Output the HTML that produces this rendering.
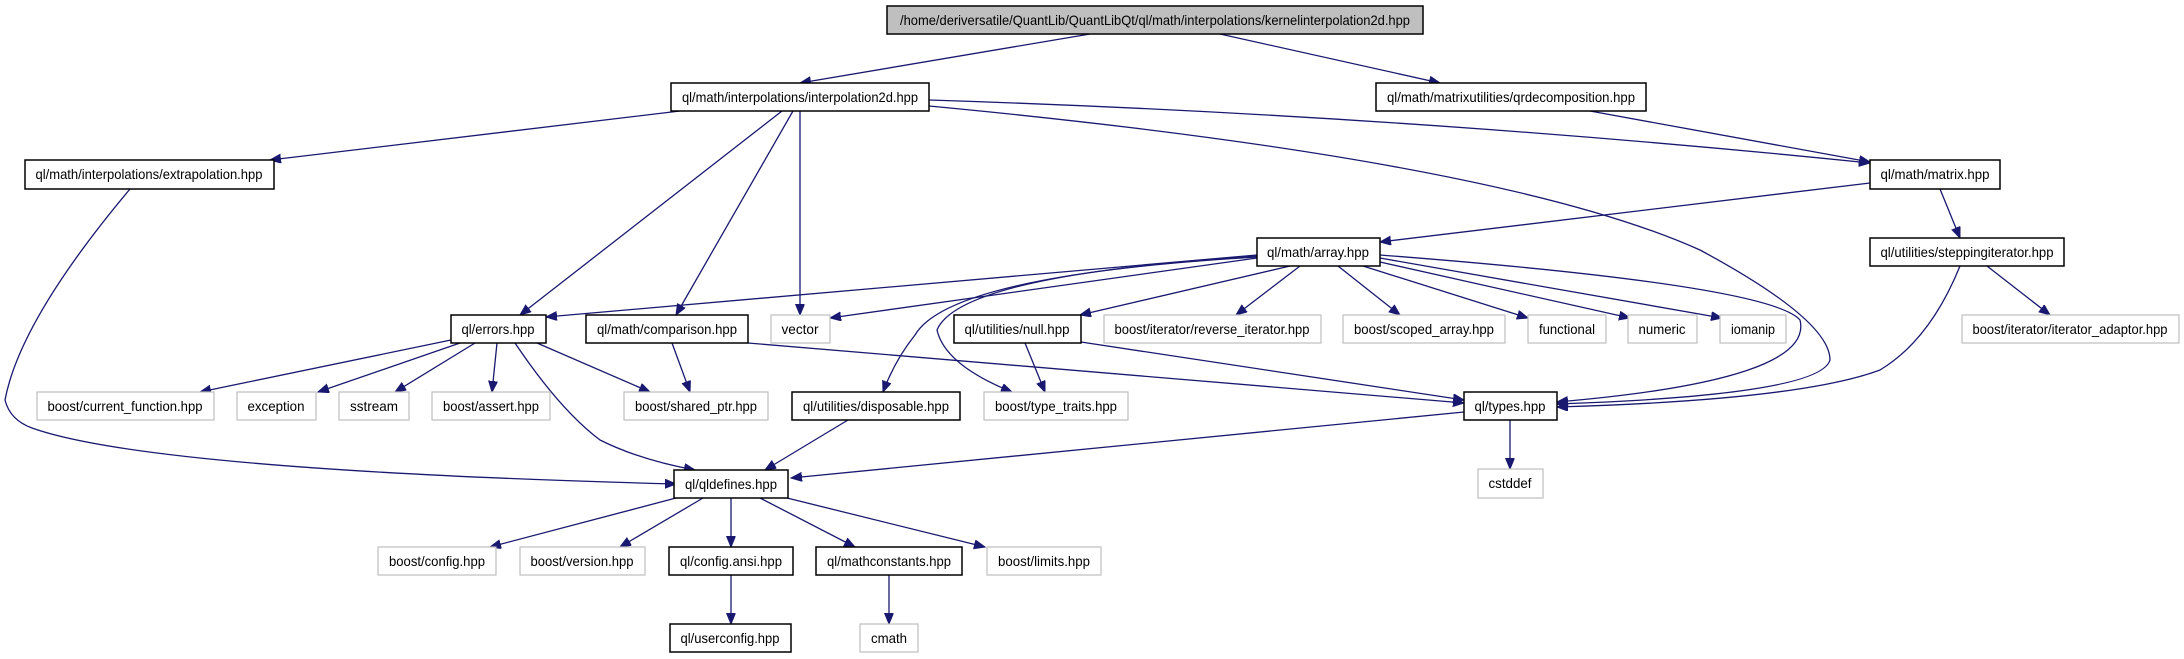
<!DOCTYPE html>
<html><head><meta charset="utf-8"><style>
html,body{margin:0;padding:0;background:#fff;}
svg{display:block;}
text{font-family:"Liberation Sans",sans-serif;font-size:14px;fill:#000;}
.e{fill:none;stroke:#191970;stroke-width:1.3;marker-end:url(#a);}
.n{fill:#fff;stroke:#000;stroke-width:1.5;}
.g{fill:#fff;stroke:#bfbfbf;stroke-width:1.2;}
</style></head><body>
<svg width="2184" height="659" viewBox="0 0 2184 659" xmlns="http://www.w3.org/2000/svg">
<defs><marker id="a" markerUnits="userSpaceOnUse" markerWidth="12" markerHeight="10" refX="11" refY="4.5" orient="auto"><path d="M0,0 L11,4.5 L0,9 z" fill="#191970" stroke="#191970"/></marker></defs>
<g>
<path class="e" d="M1090,34 L800,83"/>
<path class="e" d="M1220,34 L1440,83"/>
<path class="e" d="M680,111 L270,160"/>
<path class="e" d="M782,111 L520,315"/>
<path class="e" d="M793,111 L676,315"/>
<path class="e" d="M800,111 L800,315"/>
<path class="e" d="M929,100 Q1400,115 1870,163"/>
<path class="e" d="M929,106 Q1500,160 1700,250 Q1830,320 1830,360 Q1820,395 1557,404"/>
<path class="e" d="M1590,111 L1870,162"/>
<path class="e" d="M1870,183 L1380,242"/>
<path class="e" d="M1940,189 L1960,238"/>
<path class="e" d="M1987,266 L2050,315"/>
<path class="e" d="M1960,266 Q1930,340 1880,370 Q1800,400 1557,407"/>
<path class="e" d="M130,189 Q20,320 5,400 Q10,420 32,428 Q150,470 676,484"/>
<path class="e" d="M1257,255 L546,317"/>
<path class="e" d="M1257,258 L830,318"/>
<path class="e" d="M1257,257 Q950,275 915,335 Q895,360 883,392"/>
<path class="e" d="M1257,256 Q960,275 937,330 Q945,365 1012,392"/>
<path class="e" d="M1290,266 L1080,315"/>
<path class="e" d="M1300,266 L1236,315"/>
<path class="e" d="M1338,266 L1400,315"/>
<path class="e" d="M1363,266 L1528,318"/>
<path class="e" d="M1380,262 L1630,318"/>
<path class="e" d="M1380,258 L1722,318"/>
<path class="e" d="M1380,255 Q1770,285 1800,320 Q1815,380 1557,402"/>
<path class="e" d="M451,340 L200,392"/>
<path class="e" d="M460,343 L318,392"/>
<path class="e" d="M475,343 L395,392"/>
<path class="e" d="M497,343 L492,392"/>
<path class="e" d="M515,343 Q560,410 600,440 Q640,460 695,470"/>
<path class="e" d="M537,343 L650,392"/>
<path class="e" d="M672,343 L690,392"/>
<path class="e" d="M748,343 L1464,403"/>
<path class="e" d="M1025,343 L1045,392"/>
<path class="e" d="M1081,342 L1464,400"/>
<path class="e" d="M848,420 L765,470"/>
<path class="e" d="M1464,412 L791,478"/>
<path class="e" d="M676,498 L490,547"/>
<path class="e" d="M703,498 L620,547"/>
<path class="e" d="M731,498 L731,547"/>
<path class="e" d="M760,498 L855,547"/>
<path class="e" d="M787,498 L985,547"/>
<path class="e" d="M731,575 L731,624"/>
<path class="e" d="M889,575 L889,624"/>
<path class="e" d="M1510,420 L1510,469"/>
</g>
<g>
<rect x="887" y="6" width="536" height="28" fill="#bfbfbf" stroke="#000" stroke-width="1.5"/>
<text x="1155" y="25" text-anchor="middle" textLength="510" lengthAdjust="spacingAndGlyphs">/home/deriversatile/QuantLib/QuantLibQt/ql/math/interpolations/kernelinterpolation2d.hpp</text>

<rect class="n" x="671" y="83" width="258" height="28"/><text x="800" y="102" text-anchor="middle" textLength="236" lengthAdjust="spacingAndGlyphs">ql/math/interpolations/interpolation2d.hpp</text>
<rect class="n" x="1376" y="83" width="270" height="28"/><text x="1511" y="102" text-anchor="middle" textLength="248" lengthAdjust="spacingAndGlyphs">ql/math/matrixutilities/qrdecomposition.hpp</text>

<rect class="n" x="25" y="160" width="249" height="29"/><text x="149" y="179" text-anchor="middle" textLength="227" lengthAdjust="spacingAndGlyphs">ql/math/interpolations/extrapolation.hpp</text>
<rect class="n" x="1870" y="160" width="130" height="29"/><text x="1935" y="179" text-anchor="middle" textLength="109" lengthAdjust="spacingAndGlyphs">ql/math/matrix.hpp</text>

<rect class="n" x="1257" y="238" width="123" height="28"/><text x="1318" y="257" text-anchor="middle" textLength="102" lengthAdjust="spacingAndGlyphs">ql/math/array.hpp</text>
<rect class="n" x="1870" y="238" width="194" height="28"/><text x="1967" y="257" text-anchor="middle" textLength="173" lengthAdjust="spacingAndGlyphs">ql/utilities/steppingiterator.hpp</text>

<rect class="n" x="451" y="315" width="95" height="28"/><text x="498" y="334" text-anchor="middle" textLength="73" lengthAdjust="spacingAndGlyphs">ql/errors.hpp</text>
<rect class="n" x="586" y="315" width="162" height="28"/><text x="667" y="334" text-anchor="middle" textLength="140" lengthAdjust="spacingAndGlyphs">ql/math/comparison.hpp</text>
<rect class="g" x="771" y="315" width="59" height="28"/><text x="800" y="334" text-anchor="middle" textLength="37" lengthAdjust="spacingAndGlyphs">vector</text>
<rect class="n" x="954" y="315" width="127" height="28"/><text x="1017" y="334" text-anchor="middle" textLength="105" lengthAdjust="spacingAndGlyphs">ql/utilities/null.hpp</text>
<rect class="g" x="1104" y="315" width="217" height="28"/><text x="1212" y="334" text-anchor="middle" textLength="195" lengthAdjust="spacingAndGlyphs">boost/iterator/reverse_iterator.hpp</text>
<rect class="g" x="1343" y="315" width="162" height="28"/><text x="1424" y="334" text-anchor="middle" textLength="140" lengthAdjust="spacingAndGlyphs">boost/scoped_array.hpp</text>
<rect class="g" x="1528" y="315" width="78" height="28"/><text x="1567" y="334" text-anchor="middle" textLength="56" lengthAdjust="spacingAndGlyphs">functional</text>
<rect class="g" x="1628" y="315" width="69" height="28"/><text x="1662" y="334" text-anchor="middle" textLength="47" lengthAdjust="spacingAndGlyphs">numeric</text>
<rect class="g" x="1720" y="315" width="66" height="28"/><text x="1753" y="334" text-anchor="middle" textLength="44" lengthAdjust="spacingAndGlyphs">iomanip</text>
<rect class="g" x="1962" y="315" width="217" height="28"/><text x="2070" y="334" text-anchor="middle" textLength="195" lengthAdjust="spacingAndGlyphs">boost/iterator/iterator_adaptor.hpp</text>

<rect class="g" x="37" y="392" width="177" height="28"/><text x="125" y="411" text-anchor="middle" textLength="155" lengthAdjust="spacingAndGlyphs">boost/current_function.hpp</text>
<rect class="g" x="237" y="392" width="79" height="28"/><text x="276" y="411" text-anchor="middle" textLength="57" lengthAdjust="spacingAndGlyphs">exception</text>
<rect class="g" x="339" y="392" width="70" height="28"/><text x="374" y="411" text-anchor="middle" textLength="48" lengthAdjust="spacingAndGlyphs">sstream</text>
<rect class="g" x="432" y="392" width="118" height="28"/><text x="491" y="411" text-anchor="middle" textLength="96" lengthAdjust="spacingAndGlyphs">boost/assert.hpp</text>
<rect class="g" x="624" y="392" width="144" height="28"/><text x="696" y="411" text-anchor="middle" textLength="122" lengthAdjust="spacingAndGlyphs">boost/shared_ptr.hpp</text>
<rect class="n" x="792" y="392" width="168" height="28"/><text x="876" y="411" text-anchor="middle" textLength="146" lengthAdjust="spacingAndGlyphs">ql/utilities/disposable.hpp</text>
<rect class="g" x="984" y="392" width="144" height="28"/><text x="1056" y="411" text-anchor="middle" textLength="122" lengthAdjust="spacingAndGlyphs">boost/type_traits.hpp</text>
<rect class="n" x="1464" y="392" width="93" height="28"/><text x="1510" y="411" text-anchor="middle" textLength="71" lengthAdjust="spacingAndGlyphs">ql/types.hpp</text>

<rect class="n" x="674" y="470" width="114" height="28"/><text x="731" y="489" text-anchor="middle" textLength="92" lengthAdjust="spacingAndGlyphs">ql/qldefines.hpp</text>
<rect class="g" x="1478" y="469" width="65" height="29"/><text x="1510" y="488" text-anchor="middle" textLength="43" lengthAdjust="spacingAndGlyphs">cstddef</text>

<rect class="g" x="378" y="547" width="118" height="28"/><text x="437" y="566" text-anchor="middle" textLength="96" lengthAdjust="spacingAndGlyphs">boost/config.hpp</text>
<rect class="g" x="520" y="547" width="125" height="28"/><text x="582" y="566" text-anchor="middle" textLength="103" lengthAdjust="spacingAndGlyphs">boost/version.hpp</text>
<rect class="n" x="669" y="547" width="124" height="28"/><text x="731" y="566" text-anchor="middle" textLength="102" lengthAdjust="spacingAndGlyphs">ql/config.ansi.hpp</text>
<rect class="n" x="816" y="547" width="146" height="28"/><text x="889" y="566" text-anchor="middle" textLength="124" lengthAdjust="spacingAndGlyphs">ql/mathconstants.hpp</text>
<rect class="g" x="987" y="547" width="114" height="28"/><text x="1044" y="566" text-anchor="middle" textLength="92" lengthAdjust="spacingAndGlyphs">boost/limits.hpp</text>

<rect class="n" x="670" y="624" width="121" height="28"/><text x="730" y="643" text-anchor="middle" textLength="99" lengthAdjust="spacingAndGlyphs">ql/userconfig.hpp</text>
<rect class="g" x="860" y="624" width="58" height="28"/><text x="889" y="643" text-anchor="middle" textLength="36" lengthAdjust="spacingAndGlyphs">cmath</text>
</g>
</svg>
</body></html>
